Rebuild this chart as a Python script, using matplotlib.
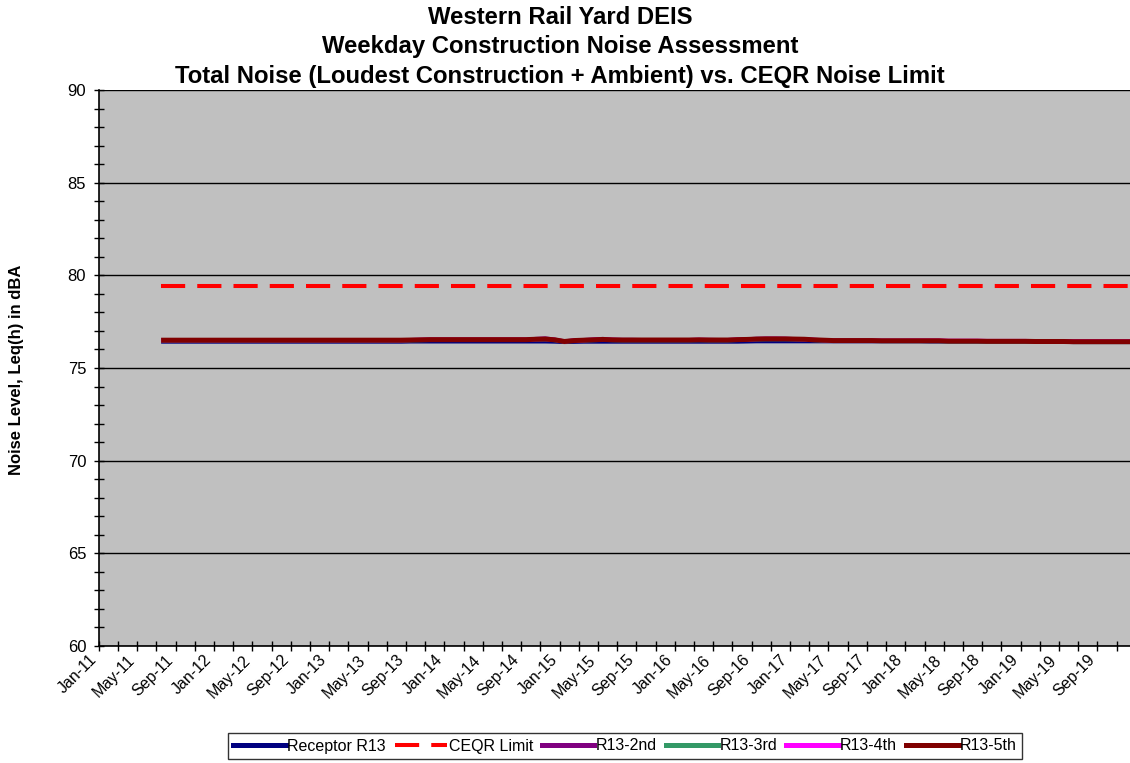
import matplotlib
matplotlib.use("Agg")
import matplotlib.pyplot as plt
import matplotlib.transforms as mtransforms
from matplotlib.lines import Line2D
from matplotlib.ticker import MultipleLocator, FixedLocator

plt.rcParams["font.family"] = ["Liberation Sans", "DejaVu Sans"]

# months are counted from Jan-11 (0); data runs Jul-11 .. Dec-19
start_month = 6

receptor_r13 = [
    76.42, 76.42, 76.42, 76.42, 76.42, 76.42,
    76.42, 76.42, 76.42, 76.42, 76.42, 76.42, 76.42, 76.42, 76.42, 76.42, 76.42, 76.42,
    76.42, 76.42, 76.42, 76.42, 76.42, 76.42, 76.42, 76.42, 76.43, 76.43, 76.43, 76.43,
    76.43, 76.43, 76.43, 76.43, 76.43, 76.43, 76.43, 76.43, 76.43, 76.43, 76.43, 76.42,
    76.40, 76.41, 76.42, 76.42, 76.42, 76.42, 76.42, 76.42, 76.42, 76.42, 76.42, 76.42,
    76.42, 76.42, 76.42, 76.42, 76.42, 76.42, 76.42, 76.43, 76.44, 76.44, 76.44, 76.44,
    76.44, 76.44, 76.44, 76.44, 76.44, 76.44, 76.44, 76.44, 76.44, 76.44, 76.44, 76.44,
    76.44, 76.44, 76.43, 76.43, 76.43, 76.43, 76.43, 76.43, 76.42, 76.42, 76.42, 76.42,
    76.42, 76.41, 76.41, 76.41, 76.41, 76.40, 76.40, 76.40, 76.40, 76.40, 76.40, 76.40,
]

ceqr_limit = [79.4] * len(receptor_r13)

r13_2nd = [
    76.50, 76.50, 76.50, 76.50, 76.50, 76.50,
    76.50, 76.50, 76.50, 76.50, 76.50, 76.50, 76.50, 76.50, 76.50, 76.50, 76.50, 76.50,
    76.50, 76.50, 76.50, 76.50, 76.50, 76.50, 76.50, 76.50, 76.51, 76.52, 76.53, 76.53,
    76.53, 76.53, 76.53, 76.53, 76.53, 76.53, 76.53, 76.53, 76.53, 76.57, 76.60, 76.53,
    76.44, 76.49, 76.51, 76.54, 76.57, 76.53, 76.52, 76.52, 76.51, 76.51, 76.51, 76.51,
    76.51, 76.51, 76.52, 76.52, 76.51, 76.51, 76.53, 76.55, 76.58, 76.59, 76.59, 76.58,
    76.56, 76.55, 76.52, 76.50, 76.48, 76.48, 76.48, 76.48, 76.48, 76.47, 76.47, 76.47,
    76.47, 76.47, 76.47, 76.47, 76.45, 76.45, 76.45, 76.45, 76.44, 76.44, 76.44, 76.44,
    76.44, 76.43, 76.43, 76.43, 76.43, 76.42, 76.42, 76.42, 76.42, 76.42, 76.42, 76.42,
]

r13_3rd = [
    76.48, 76.48, 76.48, 76.48, 76.48, 76.48,
    76.48, 76.48, 76.48, 76.48, 76.48, 76.48, 76.48, 76.48, 76.48, 76.48, 76.48, 76.48,
    76.48, 76.48, 76.48, 76.48, 76.48, 76.48, 76.48, 76.48, 76.49, 76.50, 76.51, 76.51,
    76.51, 76.51, 76.51, 76.51, 76.51, 76.51, 76.51, 76.51, 76.51, 76.53, 76.54, 76.50,
    76.42, 76.46, 76.48, 76.50, 76.52, 76.50, 76.49, 76.49, 76.49, 76.49, 76.49, 76.49,
    76.49, 76.49, 76.50, 76.49, 76.49, 76.49, 76.51, 76.52, 76.54, 76.55, 76.55, 76.55,
    76.54, 76.53, 76.50, 76.48, 76.46, 76.46, 76.46, 76.46, 76.46, 76.45, 76.45, 76.45,
    76.45, 76.45, 76.45, 76.45, 76.43, 76.43, 76.43, 76.43, 76.42, 76.42, 76.42, 76.42,
    76.42, 76.41, 76.41, 76.41, 76.41, 76.40, 76.40, 76.40, 76.40, 76.40, 76.40, 76.40,
]

r13_4th = [
    76.50, 76.50, 76.50, 76.50, 76.50, 76.50,
    76.50, 76.50, 76.50, 76.50, 76.50, 76.50, 76.50, 76.50, 76.50, 76.50, 76.50, 76.50,
    76.50, 76.50, 76.50, 76.50, 76.50, 76.50, 76.50, 76.50, 76.51, 76.52, 76.53, 76.53,
    76.53, 76.53, 76.53, 76.53, 76.53, 76.53, 76.53, 76.53, 76.53, 76.55, 76.56, 76.52,
    76.43, 76.48, 76.50, 76.52, 76.54, 76.52, 76.51, 76.51, 76.51, 76.51, 76.51, 76.51,
    76.51, 76.51, 76.52, 76.51, 76.51, 76.51, 76.53, 76.54, 76.56, 76.57, 76.57, 76.57,
    76.56, 76.55, 76.52, 76.50, 76.48, 76.48, 76.48, 76.48, 76.48, 76.47, 76.47, 76.47,
    76.48, 76.48, 76.48, 76.48, 76.47, 76.47, 76.47, 76.47, 76.46, 76.46, 76.46, 76.46,
    76.46, 76.45, 76.45, 76.45, 76.45, 76.44, 76.44, 76.44, 76.44, 76.44, 76.44, 76.44,
]

r13_5th = [
    76.50, 76.50, 76.50, 76.50, 76.50, 76.50,
    76.50, 76.50, 76.50, 76.50, 76.50, 76.50, 76.50, 76.50, 76.50, 76.50, 76.50, 76.50,
    76.50, 76.50, 76.50, 76.50, 76.50, 76.50, 76.50, 76.50, 76.51, 76.52, 76.53, 76.53,
    76.53, 76.53, 76.53, 76.53, 76.53, 76.53, 76.53, 76.53, 76.53, 76.55, 76.56, 76.52,
    76.43, 76.48, 76.50, 76.52, 76.54, 76.52, 76.51, 76.51, 76.51, 76.51, 76.51, 76.51,
    76.51, 76.51, 76.52, 76.51, 76.51, 76.51, 76.53, 76.54, 76.56, 76.57, 76.57, 76.57,
    76.56, 76.55, 76.52, 76.50, 76.48, 76.48, 76.48, 76.48, 76.48, 76.47, 76.47, 76.47,
    76.47, 76.47, 76.47, 76.47, 76.45, 76.45, 76.45, 76.45, 76.44, 76.44, 76.44, 76.44,
    76.44, 76.43, 76.43, 76.43, 76.43, 76.42, 76.42, 76.42, 76.42, 76.42, 76.42, 76.42,
]

tick_labels = [
    "Jan-11", "May-11", "Sep-11", "Jan-12", "May-12", "Sep-12", "Jan-13", "May-13", "Sep-13",
    "Jan-14", "May-14", "Sep-14", "Jan-15", "May-15", "Sep-15", "Jan-16", "May-16", "Sep-16",
    "Jan-17", "May-17", "Sep-17", "Jan-18", "May-18", "Sep-18", "Jan-19", "May-19", "Sep-19",
]

title_lines = [
    "Western Rail Yard DEIS",
    "Weekday Construction Noise Assessment",
    "Total Noise (Loudest Construction + Ambient) vs. CEQR Noise Limit",
]

# points sit between tick marks (mid-month)
x = [start_month + i + 0.5 for i in range(len(r13_5th))]

fig = plt.figure(figsize=(11.3, 7.63), dpi=100)
ax = fig.add_axes([98.7 / 1130, 1 - 646 / 763, 1 - 98.7 / 1130, (646 - 90) / 763])
ax.set_facecolor("#c0c0c0")

lw = 2.9
ax.plot(x, receptor_r13, color="#000080", lw=lw, solid_capstyle="butt", label="Receptor R13")
ax.plot(x, ceqr_limit, color="#ff0000", lw=lw, dashes=(6, 3), dash_capstyle="butt", label="CEQR Limit")
ax.plot(x, r13_2nd, color="#800080", lw=lw, solid_capstyle="butt", label="R13-2nd")
ax.plot(x, r13_3rd, color="#339966", lw=lw, solid_capstyle="butt", label="R13-3rd")
ax.plot(x, r13_4th, color="#ff00ff", lw=lw, solid_capstyle="butt", label="R13-4th")
ax.plot(x, r13_5th, color="#800000", lw=3.6, solid_capstyle="butt", label="R13-5th")

ax.set_ylim(60, 90)
ax.set_xlim(0, 107.4)
ax.yaxis.set_major_locator(MultipleLocator(5))
ax.yaxis.set_minor_locator(MultipleLocator(1))
ax.grid(axis="y", which="major", color="black", lw=1.0)
ax.set_axisbelow(True)

ax.xaxis.set_major_locator(FixedLocator([4 * i for i in range(len(tick_labels))]))
ax.xaxis.set_minor_locator(MultipleLocator(2))
ax.tick_params(axis="x", which="both", direction="inout", length=7, width=1, pad=1)
ax.tick_params(axis="y", which="both", direction="inout", length=7, width=1, labelsize=12, pad=5.5)
ax.set_xticklabels(tick_labels, rotation=45, ha="right", va="top",
                   rotation_mode="anchor", fontsize=11.5)
# nudge the slanted labels left so they end just before their tick
shift = mtransforms.ScaledTranslation(-10 / 100, 0, fig.dpi_scale_trans)
for lab in ax.get_xticklabels():
    lab.set_transform(lab.get_transform() + shift)

for side in ("top", "right"):
    ax.spines[side].set_visible(False)
for side in ("left", "bottom"):
    ax.spines[side].set_color("black")
    ax.spines[side].set_linewidth(1.2)

for line, ypix in zip(title_lines, (17, 47, 76)):
    fig.text(560 / 1130, 1 - ypix / 763, line, ha="center", va="center",
             fontsize=17.2, fontweight="bold")
fig.text(17 / 1130, 1 - 370 / 763, "Noise Level, Leq(h) in dBA", rotation=90,
         ha="center", va="center", fontsize=12, fontweight="bold")

handles = [
    Line2D([], [], color="#000080", lw=3.6),
    Line2D([], [], color="#ff0000", lw=2.9, dashes=(6, 3)),
    Line2D([], [], color="#800080", lw=3.6),
    Line2D([], [], color="#339966", lw=3.6),
    Line2D([], [], color="#ff00ff", lw=3.6),
    Line2D([], [], color="#800000", lw=3.6),
]
labels = ["Receptor R13", "CEQR Limit", "R13-2nd", "R13-3rd", "R13-4th", "R13-5th"]
leg = fig.legend(handles, labels, loc="center", bbox_to_anchor=(625 / 1130, 1 - 746 / 763),
                 ncol=6, fontsize=11.5, frameon=True, fancybox=False, handlelength=3.3,
                 handletextpad=0.08, columnspacing=0.55, borderpad=0.35, borderaxespad=0)
leg.get_frame().set_edgecolor("black")
leg.get_frame().set_linewidth(1.0)

fig.savefig("out.png", dpi=100)
